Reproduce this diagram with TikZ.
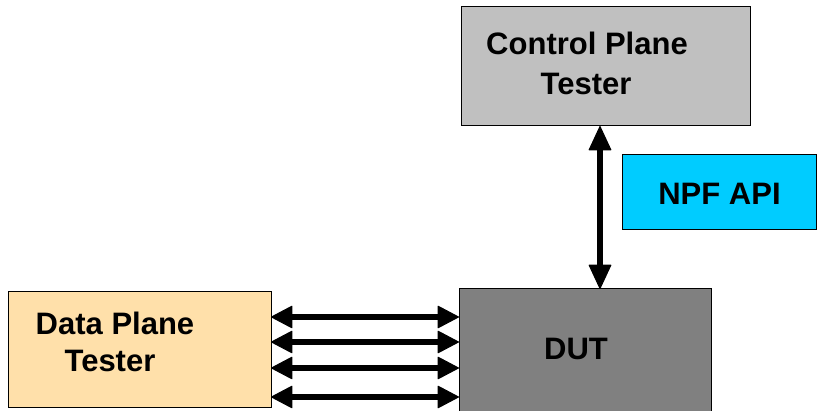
\documentclass[tikz,border=0pt]{standalone}
\usepackage{fontspec}
\setmainfont{Liberation Sans}
\usetikzlibrary{arrows.meta}
\definecolor{cpgray}{HTML}{C0C0C0}
\definecolor{npfblue}{HTML}{00CCFF}
\definecolor{dutgray}{HTML}{808080}
\definecolor{dpbeige}{HTML}{FFE0AA}
\begin{document}
\begin{tikzpicture}[x=1pt,y=1pt,
  box/.style={draw=black, line width=1pt, inner sep=0pt, outer sep=0pt},
  lbl/.style={font=\fontsize{31}{38}\selectfont\bfseries, inner sep=0pt, anchor=base},
  tip/.tip={Triangle[length=22pt,width=23pt,line width=1pt,round]},
  vtip/.tip={Triangle[length=25pt,width=23pt,line width=1pt,round]},
  dbl/.style={line width=5.5pt, tip-tip},
  vdbl/.style={line width=6.5pt, vtip-vtip}]
\useasboundingbox (0,0) rectangle (817,411);
\node[box, fill=cpgray, minimum width=289pt, minimum height=119pt] (cp) at (605.5,344.5) {};
\node[box, fill=npfblue, minimum width=194pt, minimum height=75pt] (npf) at (719,218.5) {};
\node[box, fill=dutgray, minimum width=252pt, minimum height=140pt] (dut) at (585,52) {};
\node[box, fill=dpbeige, minimum width=263pt, minimum height=116pt] (dp) at (139.5,61) {};
\node[lbl] (cpt1) at (587,356) {Control Plane};
\node[lbl] (cpt2) at (586,316) {Tester};
\node[lbl] (npft) at (719.5,206) {NPF API};
\node[lbl] (dutt) at (576,51) {DUT};
\node[lbl] (dpt1) at (115,76) {Data Plane};
\node[lbl] (dpt2) at (110,39) {Tester};
\coordinate (vx) at (600,0);
\coordinate (r1) at (0,94);
\coordinate (r2) at (0,69);
\coordinate (r3) at (0,43);
\coordinate (r4) at (0,14);
\draw[vdbl] (cp.south -| vx) -- (dut.north -| vx);
\draw[dbl] (dp.east |- r1) -- (dut.west |- r1);
\draw[dbl] (dp.east |- r2) -- (dut.west |- r2);
\draw[dbl] (dp.east |- r3) -- (dut.west |- r3);
\draw[dbl] (dp.east |- r4) -- (dut.west |- r4);
\end{tikzpicture}
\end{document}
